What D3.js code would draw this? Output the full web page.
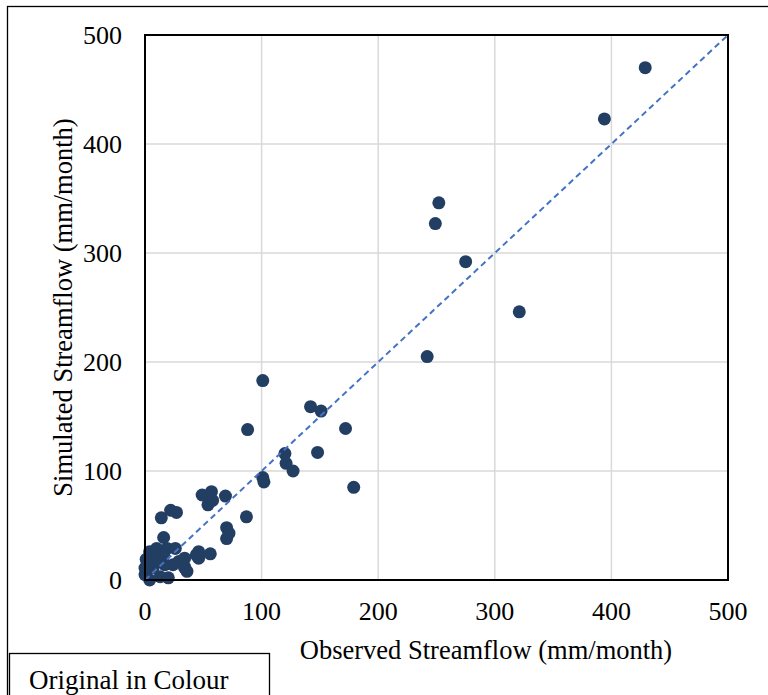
<!DOCTYPE html>
<html>
<head>
<meta charset="utf-8">
<script src="https://cdn.jsdelivr.net/npm/d3@7"></script>
<style>
  body { margin: 0; background: #ffffff; }
  svg { display: block; }
</style>
</head>
<body>
<div class="chart"></div>
<script>
var width = 768;
var height = 695;
var navy = '#233e63';
var dashblue = '#4472c4';
var gridgrey = '#d9d9d9';

/// data (mm/month)
var observed = [429, 394, 252, 249, 275, 321, 242, 101, 142, 151, 88, 172, 120, 121, 127, 148, 101, 102, 179,
  49, 57, 54, 69, 58, 87, 70, 72, 70, 14, 22, 27, 16,
  4, 10, 19, 26, 1, 9, 0, 7, 0, 4, 13, 20, 24, 29, 34, 36, 44, 34, 17, 16, 46, 56, 46, 34, 3, 12];
var simulated = [470, 423, 346, 327, 292, 246, 205, 183, 159, 155, 138, 139, 116, 107, 100, 117, 94, 90, 85,
  78, 81, 69, 77, 73, 58, 48, 43, 38, 57, 64, 62, 39,
  26, 29, 29, 29, 19, 20, 11, 11, 5, 0, 3, 2, 14, 17, 12, 8, 23, 20, 14, 22, 26, 24, 20, 11, 15, 17];
var xTicks = [0, 100, 200, 300, 400, 500];
var yTicks = [0, 100, 200, 300, 400, 500];
var xTitle = 'Observed Streamflow (mm/month)';
var yTitle = 'Simulated Streamflow (mm/month)';
var noteText = 'Original in Colour';

var points = observed.map(function(d, i){ return {obs: d, sim: simulated[i]}; });

var plot = {left: 145, right: 728, top: 35, bottom: 580};

/// Scales
var x = d3.scaleLinear()
  .domain([0, 500])
  .range([plot.left, plot.right]);

var y = d3.scaleLinear()
  .domain([0, 500])
  .range([plot.bottom, plot.top]);

var canvas = d3.select('.chart')
  .append('svg')
  .attr('width', width)
  .attr('height', height)
  .style('font-family', '"Liberation Serif", "Times New Roman", serif');

/// outer frame (right and bottom run off the page)
canvas.append('rect')
  .attr('x', 7.5)
  .attr('y', 6.5)
  .attr('width', 900)
  .attr('height', 900)
  .attr('fill', 'white')
  .attr('stroke', 'black')
  .attr('stroke-width', 1.3);

/// gridlines
canvas.append('g')
  .selectAll('line')
  .data(xTicks.slice(1, -1))
  .enter().append('line')
  .attr('x1', function(d){ return x(d); })
  .attr('x2', function(d){ return x(d); })
  .attr('y1', plot.top)
  .attr('y2', plot.bottom)
  .attr('stroke', gridgrey)
  .attr('stroke-width', 1.5);

canvas.append('g')
  .selectAll('line')
  .data(yTicks.slice(1, -1))
  .enter().append('line')
  .attr('x1', plot.left)
  .attr('x2', plot.right)
  .attr('y1', function(d){ return y(d); })
  .attr('y2', function(d){ return y(d); })
  .attr('stroke', gridgrey)
  .attr('stroke-width', 1.5);

/// points
canvas.append('g')
  .selectAll('circle')
  .data(points)
  .enter().append('circle')
  .attr('cx', function(d){ return x(d.obs); })
  .attr('cy', function(d){ return y(d.sim); })
  .attr('r', 6.5)
  .attr('fill', navy);

/// 1:1 line
canvas.append('line')
  .attr('x1', x(0))
  .attr('y1', y(0))
  .attr('x2', x(500))
  .attr('y2', y(500))
  .attr('stroke', dashblue)
  .attr('stroke-width', 2)
  .attr('stroke-dasharray', '6,4');

/// plot border
canvas.append('rect')
  .attr('x', plot.left)
  .attr('y', plot.top)
  .attr('width', plot.right - plot.left)
  .attr('height', plot.bottom - plot.top)
  .attr('fill', 'none')
  .attr('stroke', 'black')
  .attr('stroke-width', 2);

/// tick labels
canvas.append('g')
  .selectAll('text')
  .data(xTicks)
  .enter().append('text')
  .attr('x', function(d){ return x(d); })
  .attr('y', 620)
  .attr('text-anchor', 'middle')
  .attr('font-size', '26px')
  .text(function(d){ return d; });

canvas.append('g')
  .selectAll('text')
  .data(yTicks)
  .enter().append('text')
  .attr('x', 122)
  .attr('y', function(d){ return y(d) + 9; })
  .attr('text-anchor', 'end')
  .attr('font-size', '26px')
  .text(function(d){ return d; });

/// axis titles
canvas.append('text')
  .attr('x', 486)
  .attr('y', 659)
  .attr('text-anchor', 'middle')
  .attr('font-size', '26.5px')
  .text(xTitle);

canvas.append('text')
  .attr('transform', 'translate(72,' + ((plot.top + plot.bottom) / 2) + ') rotate(-90)')
  .attr('text-anchor', 'middle')
  .attr('font-size', '26.5px')
  .text(yTitle);

/// note box
canvas.append('rect')
  .attr('x', 9.5)
  .attr('y', 653.5)
  .attr('width', 260)
  .attr('height', 80)
  .attr('fill', 'white')
  .attr('stroke', 'black')
  .attr('stroke-width', 1.3);

canvas.append('text')
  .attr('x', 29)
  .attr('y', 689)
  .attr('font-size', '27px')
  .text(noteText);
</script>
</body>
</html>
